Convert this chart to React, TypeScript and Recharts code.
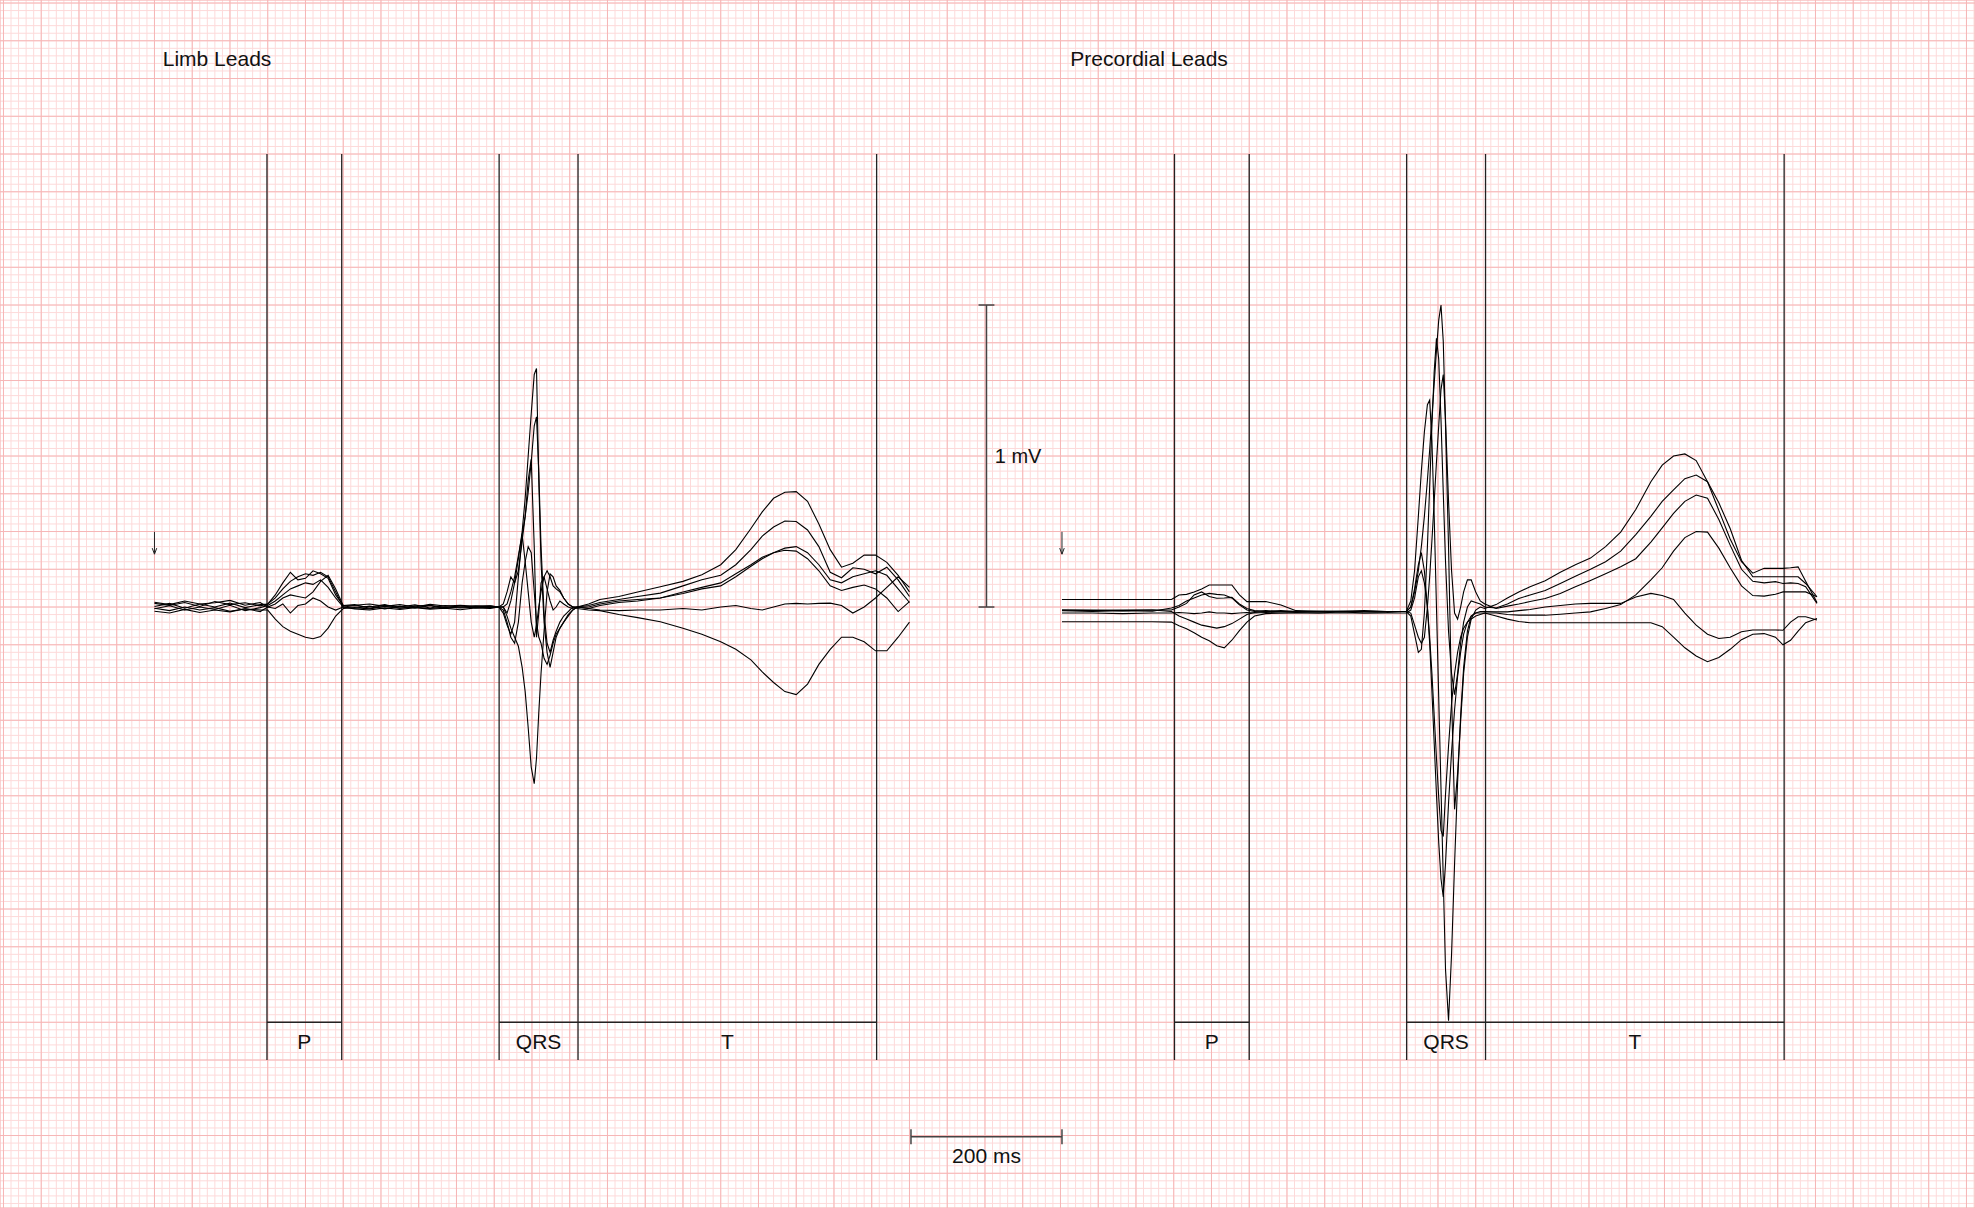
import React from "react";
import {
  ComposedChart,
  Line,
  XAxis,
  YAxis,
  CartesianGrid,
  ReferenceLine,
  ReferenceDot,
} from "recharts";

// time in ms from the start of each panel, amplitude in mV
const limbTimes = [
  0, 20, 40, 60, 80, 100, 120, 140,
  150, 160, 170, 180, 190, 200, 210, 220, 230, 240, 250,
  265, 285, 305, 325, 345, 365, 385, 405, 425, 445,
  456, 462, 467, 472, 477, 482, 487, 491, 495, 499, 503, 506, 509, 512, 516, 520, 524, 528, 532, 537, 542, 548, 554, 560,
  575, 590, 615, 640, 670, 700, 725, 750, 770, 790, 805, 820, 835, 850, 865, 880, 895, 910, 925, 940, 955, 970, 985, 1000,
];

const leadII = [
  0.012, 0.005, 0.015, 0.002, 0.018, 0.008, 0.014, 0.004,
  0.01, 0.04, 0.08, 0.115, 0.09, 0.095, 0.12, 0.11, 0.095, 0.04, 0.005,
  0.008, -0.004, 0.006, 0.0, 0.007, -0.003, 0.005, 0.0, 0.004, 0.002,
  0.0, 0.0, -0.02, 0.02, 0.08, 0.16, 0.25, 0.36, 0.5, 0.64, 0.77, 0.79, 0.42, 0.15, -0.05, -0.15, -0.2, -0.15, -0.1, -0.07, -0.05, -0.025, -0.01, 0.0,
  0.01, 0.025, 0.035, 0.05, 0.067, 0.085, 0.107, 0.14, 0.19, 0.26, 0.315, 0.36, 0.38, 0.382, 0.35, 0.275, 0.19, 0.132, 0.145, 0.172, 0.172, 0.148, 0.105, 0.05,
];
const leadAVF = [
  0.002, 0.012, -0.004, 0.01, 0.0, 0.013, -0.002, 0.008,
  0.01, 0.03, 0.06, 0.085, 0.1, 0.11, 0.105, 0.115, 0.1, 0.05, 0.0,
  0.004, 0.0, 0.008, -0.004, 0.003, 0.006, -0.002, 0.004, 0.0, 0.003,
  0.0, 0.0, 0.01, 0.05, 0.1, 0.17, 0.24, 0.3, 0.38, 0.48, 0.6, 0.63, 0.45, 0.2, -0.02, -0.12, -0.15, -0.11, -0.08, -0.05, -0.03, -0.015, 0.0, 0.0,
  0.005, 0.015, 0.025, 0.035, 0.046, 0.07, 0.09, 0.105, 0.14, 0.19, 0.235, 0.265, 0.285, 0.283, 0.255, 0.2, 0.115, 0.097, 0.13, 0.125, 0.11, 0.132, 0.09, 0.035,
];
const leadI = [
  -0.006, 0.004, -0.01, 0.0, -0.008, 0.006, -0.012, -0.002,
  0.005, 0.02, 0.04, 0.06, 0.07, 0.08, 0.075, 0.09, 0.065, 0.03, 0.0,
  -0.004, 0.003, -0.006, 0.002, -0.003, 0.004, -0.005, 0.0, -0.002, 0.001,
  0.0, 0.01, 0.05, 0.1, 0.08, 0.12, 0.22, 0.3, 0.42, 0.49, 0.2, -0.1, -0.02, 0.08, 0.1, 0.06, 0.02, -0.01, 0.0, 0.02, 0.01, 0.0, -0.005, 0.0,
  0.0, 0.01, 0.02, 0.025, 0.03, 0.045, 0.06, 0.07, 0.1, 0.135, 0.16, 0.18, 0.195, 0.2, 0.18, 0.14, 0.09, 0.08, 0.1, 0.11, 0.12, 0.105, 0.06, 0.015,
];
const leadIII = [
  0.016, 0.008, 0.02, 0.01, 0.014, 0.022, 0.006, 0.015,
  0.0, 0.01, 0.03, 0.04, 0.035, 0.03, 0.05, 0.085, 0.105, 0.06, 0.005,
  0.006, 0.01, 0.002, 0.008, 0.0, 0.009, 0.003, 0.006, 0.002, 0.004,
  0.0, -0.01, -0.05, -0.1, -0.12, -0.05, 0.08, 0.15, 0.2, 0.18, 0.05, -0.05, -0.1, -0.12, -0.17, -0.19, -0.16, -0.12, -0.09, -0.07, -0.05, -0.03, -0.01, 0.0,
  -0.005, -0.01, -0.012, -0.01, -0.01, -0.005, -0.01, 0.0, 0.005, -0.005, -0.01, 0.0, 0.01, 0.012, 0.01, 0.012, 0.013, 0.005, -0.02, 0.0, 0.03, 0.065, 0.1, 0.065,
];
const leadAVL = [
  -0.014, -0.02, -0.008, -0.018, -0.01, -0.016, -0.006, -0.015,
  0.0, -0.005, 0.01, -0.02, 0.005, 0.01, 0.03, 0.02, 0.0, -0.01, 0.0,
  -0.006, -0.01, -0.003, -0.008, -0.002, -0.007, -0.004, -0.009, -0.003, -0.005,
  0.0, -0.02, -0.06, -0.09, -0.05, 0.1, 0.24, 0.15, 0.05, -0.05, -0.1, -0.06, 0.0, 0.05, 0.1, 0.12, 0.1, 0.07, 0.06, 0.05, 0.03, 0.01, 0.0, 0.0,
  -0.005, 0.005, 0.015, 0.02, 0.03, 0.05, 0.065, 0.08, 0.11, 0.14, 0.165, 0.18, 0.188, 0.185, 0.16, 0.12, 0.07, 0.055, 0.065, 0.073, 0.06, 0.03, -0.015, 0.018,
];
const leadAVR = [
  -0.004, -0.012, 0.0, -0.01, -0.002, -0.014, -0.006, -0.01,
  -0.01, -0.04, -0.065, -0.08, -0.09, -0.1, -0.105, -0.098, -0.07, -0.03, -0.005,
  -0.002, -0.006, 0.002, -0.004, -0.001, -0.005, 0.0, -0.003, -0.001, -0.002,
  0.0, 0.0, -0.03, -0.07, -0.1, -0.13, -0.2, -0.28, -0.4, -0.53, -0.585, -0.5, -0.35, -0.22, -0.08, 0.05, 0.11, 0.1, 0.07, 0.055, 0.03, 0.01, 0.0, -0.005,
  -0.01, -0.012, -0.025, -0.035, -0.049, -0.07, -0.09, -0.115, -0.14, -0.175, -0.215, -0.25, -0.28, -0.29, -0.255, -0.19, -0.14, -0.1, -0.1, -0.115, -0.145, -0.145, -0.1, -0.05,
];

const precTimes = [
  0, 40, 80, 120,
  145, 155, 165, 175, 185, 195, 205, 215, 225, 235, 245,
  255, 270, 290, 310, 340, 370, 400, 430, 450,
  456, 462, 467, 472, 476, 480, 484, 487, 490, 493, 496, 499, 502, 505, 508, 512, 516, 520, 524, 528, 532, 537, 542, 548, 554, 560,
  575, 590, 605, 620, 640, 660, 680, 700, 720, 740, 760, 780, 795, 810, 825, 840, 855, 870, 885, 900, 915, 930, 945, 955, 965, 975, 985, 1000,
];

const leadV1 = [
  -0.049, -0.049, -0.049, -0.049,
  -0.05, -0.062, -0.072, -0.085, -0.1, -0.112, -0.128, -0.135, -0.11, -0.078, -0.05,
  -0.03, -0.022, -0.02, -0.02, -0.02, -0.02, -0.02, -0.02, -0.02,
  -0.02, -0.01, 0.03, 0.1, 0.12, 0.08, 0.0, -0.1, -0.22, -0.36, -0.5, -0.63, -0.74, -0.76, -0.62, -0.46, -0.32, -0.22, -0.15, -0.1, -0.07, -0.05, -0.04, -0.03, -0.025, -0.02,
  -0.03, -0.04, -0.048, -0.052, -0.052, -0.052, -0.052, -0.052, -0.052, -0.052, -0.052, -0.052, -0.065, -0.1, -0.135, -0.162, -0.181, -0.167, -0.14, -0.108, -0.09, -0.088, -0.1, -0.125, -0.11, -0.08, -0.052, -0.038,
];
const leadV2 = [
  -0.01, -0.012, -0.01, -0.01,
  -0.01, 0.0, 0.012, 0.04, 0.05, 0.035, 0.029, 0.03, 0.032, 0.01, -0.005,
  -0.012, -0.015, -0.012, -0.015, -0.013, -0.015, -0.012, -0.015, -0.015,
  -0.015, 0.0, 0.06, 0.14, 0.18, 0.12, 0.0, -0.12, -0.28, -0.45, -0.62, -0.78, -0.9, -0.96, -0.85, -0.65, -0.48, -0.34, -0.23, -0.15, -0.09, -0.05, -0.03, -0.02, -0.015, -0.015,
  -0.016, -0.016, -0.012, -0.008, 0.0, 0.005, 0.01, 0.012, 0.012, 0.012, 0.033, 0.045, 0.038, 0.025, -0.02, -0.06, -0.09, -0.104, -0.1, -0.082, -0.076, -0.076, -0.076, -0.077, -0.05, -0.032, -0.032, -0.043,
];
const leadV3 = [
  0.025, 0.025, 0.025, 0.025,
  0.025, 0.04, 0.042, 0.05, 0.06, 0.073, 0.073, 0.073, 0.073, 0.04, 0.018,
  0.018, 0.018, 0.007, -0.012, -0.015, -0.015, -0.015, -0.015, -0.015,
  -0.015, 0.02, 0.12, 0.3, 0.45, 0.58, 0.67, 0.685, 0.55, 0.3, 0.0, -0.3, -0.6, -0.9, -1.2, -1.37, -1.15, -0.85, -0.58, -0.36, -0.2, -0.08, -0.03, -0.02, -0.02, -0.02,
  -0.02, -0.025, -0.027, -0.027, -0.027, -0.024, -0.02, -0.016, -0.005, 0.008, 0.04, 0.09, 0.13, 0.185, 0.23, 0.25, 0.248, 0.195, 0.13, 0.07, 0.038, 0.036, 0.042, 0.05, 0.05, 0.05, 0.05, 0.034,
];
const leadV4 = [
  -0.012, -0.015, -0.012, -0.014,
  -0.003, 0.005, 0.02, 0.03, 0.04, 0.045, 0.042, 0.04, 0.03, 0.007, -0.01,
  -0.015, -0.012, -0.015, -0.014, -0.015, -0.013, -0.015, -0.015, -0.015,
  -0.015, 0.0, 0.05, 0.12, 0.2, 0.3, 0.42, 0.52, 0.63, 0.74, 0.85, 0.95, 1.0, 0.88, 0.6, 0.2, -0.3, -0.67, -0.55, -0.38, -0.22, -0.1, -0.04, -0.01, 0.0, -0.005,
  0.008, 0.03, 0.05, 0.067, 0.087, 0.115, 0.14, 0.162, 0.2, 0.248, 0.323, 0.415, 0.47, 0.5, 0.507, 0.485, 0.415, 0.32, 0.225, 0.15, 0.112, 0.128, 0.128, 0.128, 0.13, 0.133, 0.085, 0.015,
];
const leadV5 = [
  -0.02, -0.02, -0.022, -0.02,
  -0.02, -0.018, -0.02, -0.022, -0.02, -0.016, -0.02, -0.02, -0.022, -0.02, -0.018,
  -0.02, -0.018, -0.02, -0.018, -0.02, -0.016, -0.02, -0.018, -0.015,
  -0.015, -0.03, -0.09, -0.15, -0.14, -0.02, 0.2, 0.4, 0.6, 0.78, 0.89, 0.82, 0.62, 0.38, 0.15, -0.08, -0.22, -0.29, -0.22, -0.12, -0.05, 0.0, 0.02, 0.015, 0.01, 0.0,
  -0.003, 0.01, 0.028, 0.04, 0.055, 0.078, 0.102, 0.125, 0.15, 0.185, 0.24, 0.3, 0.35, 0.388, 0.425, 0.437, 0.415, 0.345, 0.26, 0.155, 0.1, 0.1, 0.1, 0.1, 0.1, 0.1, 0.078, 0.034,
];
const leadV6 = [
  -0.01, -0.01, -0.012, -0.01,
  -0.015, -0.03, -0.04, -0.05, -0.06, -0.065, -0.07, -0.065, -0.055, -0.04, -0.025,
  -0.018, -0.015, -0.015, -0.015, -0.016, -0.015, -0.014, -0.015, -0.015,
  -0.015, -0.02, -0.06, -0.1, -0.12, -0.1, 0.0, 0.1, 0.22, 0.35, 0.48, 0.6, 0.72, 0.77, 0.62, 0.35, 0.12, -0.02, -0.04, 0.0, 0.05, 0.09, 0.09, 0.05, 0.02, 0.01,
  -0.005, 0.003, 0.01, 0.018, 0.028, 0.045, 0.067, 0.088, 0.11, 0.133, 0.16, 0.215, 0.262, 0.31, 0.35, 0.371, 0.36, 0.29, 0.205, 0.125, 0.085, 0.08, 0.084, 0.078, 0.08, 0.078, 0.067, 0.012,
];

const limbNames = ["I", "II", "III", "aVR", "aVL", "aVF"];
const limbValues = [leadI, leadII, leadIII, leadAVR, leadAVL, leadAVF];
const precNames = ["V1", "V2", "V3", "V4", "V5", "V6"];
const precValues = [leadV1, leadV2, leadV3, leadV4, leadV5, leadV6];

// interval boundaries (ms) and labels, shared by both panels
const boundaries = [149, 248, 456.5, 561, 956.5];
const intervalLabels = ["P", "QRS", "T"];
const intervalSpans = [[149, 248], [456.5, 561], [561, 956.5]];

const PREC_OFFSET = 1202; // precordial panel starts ~1.2 s after limb panel
const X_DOMAIN: [number, number] = [-204.6, 2411.3];
const Y_DOMAIN: [number, number] = [-1.99, 2.01];

const MINOR = "#fddada";
const MAJOR = "#f6b6b6";
const INK = "#222";
const FONT = '"Liberation Sans", Arial, Helvetica, sans-serif';

const minorXTicks = Array.from({ length: 262 }, (_, i) => -200 + i * 10);
const majorXTicks = Array.from({ length: 53 }, (_, i) => -200 + i * 50);
const minorYTicks = Array.from({ length: 160 }, (_, i) => +(-1.975 + i * 0.025).toFixed(3));
const majorYTicks = Array.from({ length: 32 }, (_, i) => -1.875 + i * 0.125);

const limbRows = limbTimes.map((t, i) => {
  const row: Record<string, number> = { t };
  limbNames.forEach((n, j) => (row[n] = limbValues[j][i]));
  return row;
});
const precRows = precTimes.map((t, i) => {
  const row: Record<string, number> = { t: t + PREC_OFFSET };
  precNames.forEach((n, j) => (row[n] = precValues[j][i]));
  return row;
});
const rows = [...limbRows, ...precRows];

const panels = [
  { title: "Limb Leads", offset: 0 },
  { title: "Precordial Leads", offset: PREC_OFFSET },
];

const ax = { xAxisId: "major", yAxisId: "major" };

export default function App() {
  return (
    <div
      style={{
        position: "absolute",
        left: 0,
        top: 0,
        width: 1975,
        height: 1208,
        background: "#fff",
        fontFamily: FONT,
      }}
    >
      <ComposedChart
        width={1975}
        height={1208}
        data={rows}
        margin={{ top: 0, right: 0, bottom: 0, left: 0 }}
      >
        <XAxis xAxisId="minor" dataKey="t" type="number" domain={X_DOMAIN} ticks={minorXTicks} interval={0} allowDataOverflow hide />
        <XAxis xAxisId="major" dataKey="t" type="number" domain={X_DOMAIN} ticks={majorXTicks} interval={0} allowDataOverflow hide />
        <YAxis yAxisId="minor" type="number" domain={Y_DOMAIN} ticks={minorYTicks} interval={0} allowDataOverflow hide />
        <YAxis yAxisId="major" type="number" domain={Y_DOMAIN} ticks={majorYTicks} interval={0} allowDataOverflow hide />
        <CartesianGrid xAxisId="minor" yAxisId="minor" stroke={MINOR} strokeWidth={1} />
        <CartesianGrid xAxisId="major" yAxisId="major" stroke={MAJOR} strokeWidth={1} />

        {panels.map((p) =>
          boundaries.map((b) => (
            <ReferenceLine
              key={`${p.title}-b${b}`}
              {...ax}
              segment={[{ x: b + p.offset, y: -1.5 }, { x: b + p.offset, y: 1.5 }]}
              stroke={INK}
              strokeWidth={1.3}
            />
          ))
        )}
        {panels.map((p) => (
          <ReferenceLine key={`${p.title}-pbox`} {...ax}
            segment={[{ x: 149 + p.offset, y: -1.375 }, { x: 248 + p.offset, y: -1.375 }]}
            stroke={INK} strokeWidth={1.3} />
        ))}
        {panels.map((p) => (
          <ReferenceLine key={`${p.title}-qtbox`} {...ax}
            segment={[{ x: 456.5 + p.offset, y: -1.375 }, { x: 956.5 + p.offset, y: -1.375 }]}
            stroke={INK} strokeWidth={1.3} />
        ))}
        {panels.map((p) =>
          intervalSpans.map((s, i) => (
            <ReferenceDot
              key={`${p.title}-lab${i}`}
              {...ax}
              x={(s[0] + s[1]) / 2 + p.offset}
              y={-1.44}
              r={0}
              stroke="none"
              fill="none"
              label={{ value: intervalLabels[i], position: "center", fill: "#111", fontSize: 21, fontFamily: FONT }}
            />
          ))
        )}
        {panels.map((p) => (
          <ReferenceDot
            key={`${p.title}-title`}
            {...ax}
            x={11 + p.offset}
            y={1.815}
            r={0}
            stroke="none"
            fill="none"
            label={{ value: p.title, position: "right", offset: 0, fill: "#111", fontSize: 21, fontFamily: FONT }}
          />
        ))}
        {/* start-of-beat arrows */}
        {panels.map((p) => (
          <ReferenceLine key={`${p.title}-arrow`} {...ax}
            segment={[{ x: p.offset, y: 0.249 }, { x: p.offset, y: 0.175 }]}
            stroke={INK} strokeWidth={1} />
        ))}
        {panels.map((p) => (
          <ReferenceLine key={`${p.title}-ahl`} {...ax}
            segment={[{ x: p.offset - 3, y: 0.195 }, { x: p.offset, y: 0.175 }]}
            stroke={INK} strokeWidth={1} />
        ))}
        {panels.map((p) => (
          <ReferenceLine key={`${p.title}-ahr`} {...ax}
            segment={[{ x: p.offset + 3, y: 0.195 }, { x: p.offset, y: 0.175 }]}
            stroke={INK} strokeWidth={1} />
        ))}

        {/* calibration: 1 mV */}
        <ReferenceLine {...ax} segment={[{ x: 1102, y: 0 }, { x: 1102, y: 1 }]} stroke="#444" strokeWidth={1.5} />
        <ReferenceLine {...ax} segment={[{ x: 1091.5, y: 1 }, { x: 1112.5, y: 1 }]} stroke="#444" strokeWidth={1.5} />
        <ReferenceLine {...ax} segment={[{ x: 1091.5, y: 0 }, { x: 1112.5, y: 0 }]} stroke="#444" strokeWidth={1.5} />
        <ReferenceDot {...ax} x={1113} y={0.5} r={0} stroke="none" fill="none"
          label={{ value: "1 mV", position: "right", offset: 0, fill: "#111", fontSize: 20, fontFamily: FONT }} />

        {/* calibration: 200 ms */}
        <ReferenceLine {...ax} segment={[{ x: 1002, y: -1.754 }, { x: 1202, y: -1.754 }]} stroke="#444" strokeWidth={1.5} />
        <ReferenceLine {...ax} segment={[{ x: 1002, y: -1.729 }, { x: 1002, y: -1.779 }]} stroke="#444" strokeWidth={1.5} />
        <ReferenceLine {...ax} segment={[{ x: 1202, y: -1.729 }, { x: 1202, y: -1.779 }]} stroke="#444" strokeWidth={1.5} />
        <ReferenceDot {...ax} x={1102} y={-1.815} r={0} stroke="none" fill="none"
          label={{ value: "200 ms", position: "center", fill: "#111", fontSize: 21, fontFamily: FONT }} />

        {[...limbNames, ...precNames].map((name) => (
          <Line
            key={name}
            {...ax}
            type="linear"
            dataKey={name}
            stroke="#000"
            strokeWidth={1.1}
            dot={false}
            activeDot={false}
            isAnimationActive={false}
          />
        ))}
      </ComposedChart>
    </div>
  );
}
